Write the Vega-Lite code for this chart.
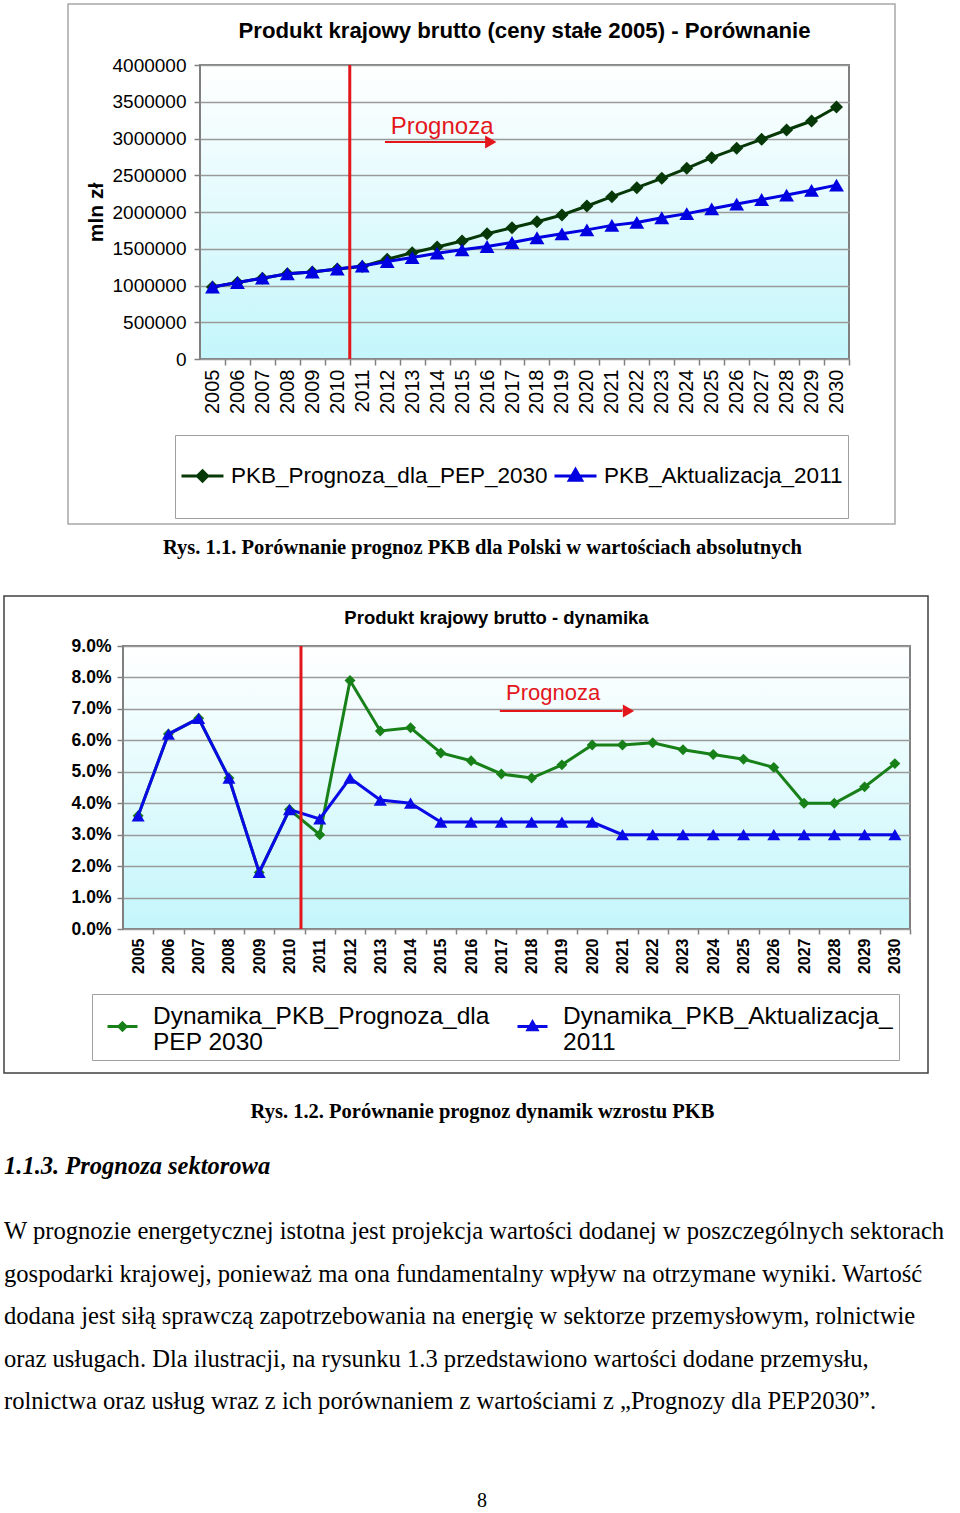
{
  "$schema": "https://vega.github.io/schema/vega-lite/v6.json",
  "background": "white",
  "padding": {"left": 0, "top": 3, "right": 0, "bottom": 0},
  "config": {
    "font": "Liberation Sans",
    "axis": {"labelColor": "black", "titleColor": "black"},
    "title": {"color": "black"},
    "legend": {"labelColor": "black"}
  },
  "bounds": "flush",
  "spacing": 592,
  "resolve": {"scale": {"color": "independent"}, "legend": {"color": "independent"}},
  "vconcat": [
    {
      "bounds": "flush",
      "spacing": 61,
      "resolve": {"scale": {"color": "independent"}, "legend": {"color": "independent"}},
      "vconcat": [
        {
          "bounds": "flush",
          "spacing": 0,
          "hconcat": [
            {"width": 68, "height": 1, "data": {"values": []}, "mark": "point", "encoding": {}, "view": {"stroke": null}},
            {"width": 827, "height": 520, "data": {"values": []}, "mark": "point", "encoding": {}, "view": {"stroke": "#a8a8a8", "strokeWidth": 1.5, "fill": null}}
          ]
        },
        {
          "bounds": "flush",
          "spacing": 0,
          "resolve": {"scale": {"color": "independent"}, "legend": {"color": "independent"}},
          "hconcat": [
            {"width": 200, "height": 1, "data": {"values": []}, "mark": "point", "encoding": {}, "view": {"stroke": null}},
            {
              "width": 649,
              "height": 294,
              "view": {"fill": {"gradient": "linear", "x1": 0, "y1": 0, "x2": 0, "y2": 1, "stops": [{"offset": 0, "color": "#ffffff"}, {"offset": 1, "color": "#c4f6fb"}]}, "stroke": "#808080", "strokeWidth": 2},
              "title": {"text": "Produkt krajowy brutto (ceny stałe 2005) - Porównanie", "fontSize": 22.2, "fontWeight": "bold", "offset": 14},
              "data": {"values": [
                {"rok": 2005, "seria": "PKB_Prognoza_dla_PEP_2030", "wartosc": 980000},
                {"rok": 2006, "seria": "PKB_Prognoza_dla_PEP_2030", "wartosc": 1040000},
                {"rok": 2007, "seria": "PKB_Prognoza_dla_PEP_2030", "wartosc": 1100000},
                {"rok": 2008, "seria": "PKB_Prognoza_dla_PEP_2030", "wartosc": 1160000},
                {"rok": 2009, "seria": "PKB_Prognoza_dla_PEP_2030", "wartosc": 1184000},
                {"rok": 2010, "seria": "PKB_Prognoza_dla_PEP_2030", "wartosc": 1225000},
                {"rok": 2011, "seria": "PKB_Prognoza_dla_PEP_2030", "wartosc": 1258000},
                {"rok": 2012, "seria": "PKB_Prognoza_dla_PEP_2030", "wartosc": 1357000},
                {"rok": 2013, "seria": "PKB_Prognoza_dla_PEP_2030", "wartosc": 1446000},
                {"rok": 2014, "seria": "PKB_Prognoza_dla_PEP_2030", "wartosc": 1524000},
                {"rok": 2015, "seria": "PKB_Prognoza_dla_PEP_2030", "wartosc": 1605000},
                {"rok": 2016, "seria": "PKB_Prognoza_dla_PEP_2030", "wartosc": 1705000},
                {"rok": 2017, "seria": "PKB_Prognoza_dla_PEP_2030", "wartosc": 1786000},
                {"rok": 2018, "seria": "PKB_Prognoza_dla_PEP_2030", "wartosc": 1868000},
                {"rok": 2019, "seria": "PKB_Prognoza_dla_PEP_2030", "wartosc": 1959000},
                {"rok": 2020, "seria": "PKB_Prognoza_dla_PEP_2030", "wartosc": 2082000},
                {"rok": 2021, "seria": "PKB_Prognoza_dla_PEP_2030", "wartosc": 2208000},
                {"rok": 2022, "seria": "PKB_Prognoza_dla_PEP_2030", "wartosc": 2331000},
                {"rok": 2023, "seria": "PKB_Prognoza_dla_PEP_2030", "wartosc": 2458000},
                {"rok": 2024, "seria": "PKB_Prognoza_dla_PEP_2030", "wartosc": 2594000},
                {"rok": 2025, "seria": "PKB_Prognoza_dla_PEP_2030", "wartosc": 2739000},
                {"rok": 2026, "seria": "PKB_Prognoza_dla_PEP_2030", "wartosc": 2866000},
                {"rok": 2027, "seria": "PKB_Prognoza_dla_PEP_2030", "wartosc": 2989000},
                {"rok": 2028, "seria": "PKB_Prognoza_dla_PEP_2030", "wartosc": 3116000},
                {"rok": 2029, "seria": "PKB_Prognoza_dla_PEP_2030", "wartosc": 3238000},
                {"rok": 2030, "seria": "PKB_Prognoza_dla_PEP_2030", "wartosc": 3428000},
                {"rok": 2005, "seria": "PKB_Aktualizacja_2011", "wartosc": 980000},
                {"rok": 2006, "seria": "PKB_Aktualizacja_2011", "wartosc": 1040000},
                {"rok": 2007, "seria": "PKB_Aktualizacja_2011", "wartosc": 1100000},
                {"rok": 2008, "seria": "PKB_Aktualizacja_2011", "wartosc": 1160000},
                {"rok": 2009, "seria": "PKB_Aktualizacja_2011", "wartosc": 1184000},
                {"rok": 2010, "seria": "PKB_Aktualizacja_2011", "wartosc": 1225000},
                {"rok": 2011, "seria": "PKB_Aktualizacja_2011", "wartosc": 1265000},
                {"rok": 2012, "seria": "PKB_Aktualizacja_2011", "wartosc": 1326000},
                {"rok": 2013, "seria": "PKB_Aktualizacja_2011", "wartosc": 1380000},
                {"rok": 2014, "seria": "PKB_Aktualizacja_2011", "wartosc": 1440000},
                {"rok": 2015, "seria": "PKB_Aktualizacja_2011", "wartosc": 1485000},
                {"rok": 2016, "seria": "PKB_Aktualizacja_2011", "wartosc": 1530000},
                {"rok": 2017, "seria": "PKB_Aktualizacja_2011", "wartosc": 1585000},
                {"rok": 2018, "seria": "PKB_Aktualizacja_2011", "wartosc": 1650000},
                {"rok": 2019, "seria": "PKB_Aktualizacja_2011", "wartosc": 1703000},
                {"rok": 2020, "seria": "PKB_Aktualizacja_2011", "wartosc": 1757000},
                {"rok": 2021, "seria": "PKB_Aktualizacja_2011", "wartosc": 1818000},
                {"rok": 2022, "seria": "PKB_Aktualizacja_2011", "wartosc": 1858000},
                {"rok": 2023, "seria": "PKB_Aktualizacja_2011", "wartosc": 1922000},
                {"rok": 2024, "seria": "PKB_Aktualizacja_2011", "wartosc": 1978000},
                {"rok": 2025, "seria": "PKB_Aktualizacja_2011", "wartosc": 2043000},
                {"rok": 2026, "seria": "PKB_Aktualizacja_2011", "wartosc": 2108000},
                {"rok": 2027, "seria": "PKB_Aktualizacja_2011", "wartosc": 2170000},
                {"rok": 2028, "seria": "PKB_Aktualizacja_2011", "wartosc": 2230000},
                {"rok": 2029, "seria": "PKB_Aktualizacja_2011", "wartosc": 2295000},
                {"rok": 2030, "seria": "PKB_Aktualizacja_2011", "wartosc": 2366000}
              ]},
              "layer": [
                {
                  "transform": [{"filter": "datum.seria == 'PKB_Prognoza_dla_PEP_2030'"}],
                  "mark": {"type": "line", "strokeWidth": 3},
                  "encoding": {
                    "x": {"field": "rok", "type": "quantitative", "scale": {"domain": [2004.5, 2030.5], "nice": false, "zero": false},
                      "axis": {"values": [2005,2006,2007,2008,2009,2010,2011,2012,2013,2014,2015,2016,2017,2018,2019,2020,2021,2022,2023,2024,2025,2026,2027,2028,2029,2030],
                        "tickCount": 100, "format": "d", "labelAngle": -90, "labelFontSize": 20, "labelPadding": 4, "tickOffset": 12.48, "labelOffset": -12.48, "tickSize": 6, "tickColor": "#808080", "tickWidth": 1.5,
                        "domain": false, "grid": false, "labelOverlap": false, "labelFlush": false, "labelBound": false,
                        "title": "Rys. 1.1. Porównanie prognoz PKB dla Polski w wartościach absolutnych", "titleFont": "Liberation Serif", "titleFontSize": 20.5, "titleFontWeight": "bold", "titlePadding": 124, "titleX": 282}},
                    "y": {"field": "wartosc", "type": "quantitative", "scale": {"domain": [0, 4000000], "nice": false},
                      "axis": {"values": [0,500000,1000000,1500000,2000000,2500000,3000000,3500000,4000000], "tickCount": 100, "format": "d", "labelFontSize": 19, "labelPadding": 8,
                        "title": "mln zł", "titleFontSize": 21, "titleFontWeight": "bold", "titlePadding": 6,
                        "grid": true, "gridColor": "#9a9a9a", "gridWidth": 1.5, "domain": false, "tickSize": 6, "tickColor": "#808080", "tickWidth": 1.5}},
                    "color": {"field": "seria", "type": "nominal",
                      "scale": {"domain": ["PKB_Prognoza_dla_PEP_2030", "PKB_Aktualizacja_2011"], "range": ["#073807", "#0000e0"]},
                      "legend": {"orient": "none", "legendX": -25, "legendY": 370, "direction": "horizontal", "title": null,
                        "labelFontSize": 22.5, "labelLimit": 600, "labelOffset": -20, "columnPadding": 0, "padding": 5,
                        "strokeColor": "#a0a0a0", "fillColor": "white", "symbolSize": 4624,
                        "encode": {"symbols": {"update": {
                          "shape": {"signal": "datum.value === 'PKB_Prognoza_dla_PEP_2030' ? 'M-0.38,-0.9M-0.38,0.9M-1,0L0.235,0M-0.382,-0.15L-0.232,0L-0.382,0.15L-0.532,0Z' : 'M-0.38,-0.9M-0.38,0.9M-1,0L0.235,0M-0.382,-0.19L-0.2,0.13L-0.564,0.13Z'"},
                          "fill": {"signal": "datum.value === 'PKB_Prognoza_dla_PEP_2030' ? '#073807' : '#0000e0'"},
                          "stroke": {"signal": "datum.value === 'PKB_Prognoza_dla_PEP_2030' ? '#073807' : '#0000e0'"},
                          "strokeWidth": {"value": 3}, "opacity": {"value": 1}, "fillOpacity": {"value": 1}, "strokeOpacity": {"value": 1}}}}}}
                  }
                },
                {
                  "transform": [{"filter": "datum.seria == 'PKB_Prognoza_dla_PEP_2030'"}],
                  "mark": {"type": "point", "filled": true, "opacity": 1, "shape": "diamond", "size": 170},
                  "encoding": {
                    "x": {"field": "rok", "type": "quantitative"},
                    "y": {"field": "wartosc", "type": "quantitative"},
                    "color": {"field": "seria", "type": "nominal"}
                  }
                },
                {
                  "transform": [{"filter": "datum.seria == 'PKB_Aktualizacja_2011'"}],
                  "mark": {"type": "line", "strokeWidth": 3},
                  "encoding": {
                    "x": {"field": "rok", "type": "quantitative"},
                    "y": {"field": "wartosc", "type": "quantitative"},
                    "color": {"field": "seria", "type": "nominal"}
                  }
                },
                {
                  "transform": [{"filter": "datum.seria == 'PKB_Aktualizacja_2011'"}],
                  "mark": {"type": "point", "filled": true, "opacity": 1, "shape": "triangle-up", "size": 220},
                  "encoding": {
                    "x": {"field": "rok", "type": "quantitative"},
                    "y": {"field": "wartosc", "type": "quantitative"},
                    "color": {"field": "seria", "type": "nominal"}
                  }
                },
                {
                  "data": {"values": [{}]},
                  "mark": {"type": "rule", "color": "#e3161c", "strokeWidth": 3},
                  "encoding": {"x": {"datum": 2010.5, "type": "quantitative"}}
                },
                {
                  "data": {"values": [{}]},
                  "mark": {"type": "text", "text": "Prognoza", "fontSize": 24, "color": "#e3161c", "align": "center", "baseline": "middle"},
                  "encoding": {"x": {"datum": 2014.2, "type": "quantitative"}, "y": {"datum": 3156000, "type": "quantitative"}}
                },
                {
                  "data": {"values": [{}]},
                  "mark": {"type": "rule", "color": "#e3161c", "strokeWidth": 2},
                  "encoding": {"x": {"datum": 2011.91, "type": "quantitative"}, "x2": {"datum": 2016.0}, "y": {"datum": 2952000, "type": "quantitative"}}
                },
                {
                  "data": {"values": [{}]},
                  "mark": {"type": "point", "shape": "triangle-right", "filled": true, "opacity": 1, "color": "#e3161c", "size": 170},
                  "encoding": {"x": {"datum": 2016.15, "type": "quantitative"}, "y": {"datum": 2952000, "type": "quantitative"}}
                }
              ]
            }
          ]
        }
      ]
    },
    {
      "bounds": "flush",
      "spacing": 50,
      "resolve": {"scale": {"color": "independent"}, "legend": {"color": "independent"}},
      "vconcat": [
        {
          "bounds": "flush",
          "spacing": 0,
          "hconcat": [
            {"width": 4, "height": 1, "data": {"values": []}, "mark": "point", "encoding": {}, "view": {"stroke": null}},
            {"width": 924, "height": 477, "data": {"values": []}, "mark": "point", "encoding": {}, "view": {"stroke": "#404040", "strokeWidth": 1.5, "fill": null}}
          ]
        },
        {
          "bounds": "flush",
          "spacing": 0,
          "resolve": {"scale": {"color": "independent"}, "legend": {"color": "independent"}},
          "hconcat": [
            {"width": 123, "height": 1, "data": {"values": []}, "mark": "point", "encoding": {}, "view": {"stroke": null}},
            {
              "width": 787,
              "height": 283,
              "view": {"fill": {"gradient": "linear", "x1": 0, "y1": 0, "x2": 0, "y2": 1, "stops": [{"offset": 0, "color": "#ffffff"}, {"offset": 1, "color": "#c4f6fb"}]}, "stroke": "#808080", "strokeWidth": 2},
              "title": {"text": "Produkt krajowy brutto - dynamika", "fontSize": 18.5, "fontWeight": "bold", "offset": 10, "dx": -20},
              "data": {"values": [
                {"rok": 2005, "seria": "Dynamika_PKB_Prognoza_dla PEP 2030", "dyn": 3.6},
                {"rok": 2006, "seria": "Dynamika_PKB_Prognoza_dla PEP 2030", "dyn": 6.2},
                {"rok": 2007, "seria": "Dynamika_PKB_Prognoza_dla PEP 2030", "dyn": 6.7},
                {"rok": 2008, "seria": "Dynamika_PKB_Prognoza_dla PEP 2030", "dyn": 4.8},
                {"rok": 2009, "seria": "Dynamika_PKB_Prognoza_dla PEP 2030", "dyn": 1.8},
                {"rok": 2010, "seria": "Dynamika_PKB_Prognoza_dla PEP 2030", "dyn": 3.8},
                {"rok": 2011, "seria": "Dynamika_PKB_Prognoza_dla PEP 2030", "dyn": 3.0},
                {"rok": 2012, "seria": "Dynamika_PKB_Prognoza_dla PEP 2030", "dyn": 7.9},
                {"rok": 2013, "seria": "Dynamika_PKB_Prognoza_dla PEP 2030", "dyn": 6.3},
                {"rok": 2014, "seria": "Dynamika_PKB_Prognoza_dla PEP 2030", "dyn": 6.4},
                {"rok": 2015, "seria": "Dynamika_PKB_Prognoza_dla PEP 2030", "dyn": 5.6},
                {"rok": 2016, "seria": "Dynamika_PKB_Prognoza_dla PEP 2030", "dyn": 5.35},
                {"rok": 2017, "seria": "Dynamika_PKB_Prognoza_dla PEP 2030", "dyn": 4.93},
                {"rok": 2018, "seria": "Dynamika_PKB_Prognoza_dla PEP 2030", "dyn": 4.8},
                {"rok": 2019, "seria": "Dynamika_PKB_Prognoza_dla PEP 2030", "dyn": 5.22},
                {"rok": 2020, "seria": "Dynamika_PKB_Prognoza_dla PEP 2030", "dyn": 5.85},
                {"rok": 2021, "seria": "Dynamika_PKB_Prognoza_dla PEP 2030", "dyn": 5.85},
                {"rok": 2022, "seria": "Dynamika_PKB_Prognoza_dla PEP 2030", "dyn": 5.92},
                {"rok": 2023, "seria": "Dynamika_PKB_Prognoza_dla PEP 2030", "dyn": 5.7},
                {"rok": 2024, "seria": "Dynamika_PKB_Prognoza_dla PEP 2030", "dyn": 5.55},
                {"rok": 2025, "seria": "Dynamika_PKB_Prognoza_dla PEP 2030", "dyn": 5.4},
                {"rok": 2026, "seria": "Dynamika_PKB_Prognoza_dla PEP 2030", "dyn": 5.14},
                {"rok": 2027, "seria": "Dynamika_PKB_Prognoza_dla PEP 2030", "dyn": 4.0},
                {"rok": 2028, "seria": "Dynamika_PKB_Prognoza_dla PEP 2030", "dyn": 4.0},
                {"rok": 2029, "seria": "Dynamika_PKB_Prognoza_dla PEP 2030", "dyn": 4.52},
                {"rok": 2030, "seria": "Dynamika_PKB_Prognoza_dla PEP 2030", "dyn": 5.26},
                {"rok": 2005, "seria": "Dynamika_PKB_Aktualizacja_2011", "dyn": 3.6},
                {"rok": 2006, "seria": "Dynamika_PKB_Aktualizacja_2011", "dyn": 6.2},
                {"rok": 2007, "seria": "Dynamika_PKB_Aktualizacja_2011", "dyn": 6.7},
                {"rok": 2008, "seria": "Dynamika_PKB_Aktualizacja_2011", "dyn": 4.8},
                {"rok": 2009, "seria": "Dynamika_PKB_Aktualizacja_2011", "dyn": 1.8},
                {"rok": 2010, "seria": "Dynamika_PKB_Aktualizacja_2011", "dyn": 3.8},
                {"rok": 2011, "seria": "Dynamika_PKB_Aktualizacja_2011", "dyn": 3.5},
                {"rok": 2012, "seria": "Dynamika_PKB_Aktualizacja_2011", "dyn": 4.8},
                {"rok": 2013, "seria": "Dynamika_PKB_Aktualizacja_2011", "dyn": 4.1},
                {"rok": 2014, "seria": "Dynamika_PKB_Aktualizacja_2011", "dyn": 4.0},
                {"rok": 2015, "seria": "Dynamika_PKB_Aktualizacja_2011", "dyn": 3.4},
                {"rok": 2016, "seria": "Dynamika_PKB_Aktualizacja_2011", "dyn": 3.4},
                {"rok": 2017, "seria": "Dynamika_PKB_Aktualizacja_2011", "dyn": 3.4},
                {"rok": 2018, "seria": "Dynamika_PKB_Aktualizacja_2011", "dyn": 3.4},
                {"rok": 2019, "seria": "Dynamika_PKB_Aktualizacja_2011", "dyn": 3.4},
                {"rok": 2020, "seria": "Dynamika_PKB_Aktualizacja_2011", "dyn": 3.4},
                {"rok": 2021, "seria": "Dynamika_PKB_Aktualizacja_2011", "dyn": 3.0},
                {"rok": 2022, "seria": "Dynamika_PKB_Aktualizacja_2011", "dyn": 3.0},
                {"rok": 2023, "seria": "Dynamika_PKB_Aktualizacja_2011", "dyn": 3.0},
                {"rok": 2024, "seria": "Dynamika_PKB_Aktualizacja_2011", "dyn": 3.0},
                {"rok": 2025, "seria": "Dynamika_PKB_Aktualizacja_2011", "dyn": 3.0},
                {"rok": 2026, "seria": "Dynamika_PKB_Aktualizacja_2011", "dyn": 3.0},
                {"rok": 2027, "seria": "Dynamika_PKB_Aktualizacja_2011", "dyn": 3.0},
                {"rok": 2028, "seria": "Dynamika_PKB_Aktualizacja_2011", "dyn": 3.0},
                {"rok": 2029, "seria": "Dynamika_PKB_Aktualizacja_2011", "dyn": 3.0},
                {"rok": 2030, "seria": "Dynamika_PKB_Aktualizacja_2011", "dyn": 3.0}
              ]},
              "layer": [
                {
                  "transform": [{"filter": "datum.seria == 'Dynamika_PKB_Prognoza_dla PEP 2030'"}],
                  "mark": {"type": "line", "strokeWidth": 3},
                  "encoding": {
                    "x": {"field": "rok", "type": "quantitative", "scale": {"domain": [2004.5, 2030.5], "nice": false, "zero": false},
                      "axis": {"values": [2005,2006,2007,2008,2009,2010,2011,2012,2013,2014,2015,2016,2017,2018,2019,2020,2021,2022,2023,2024,2025,2026,2027,2028,2029,2030],
                        "tickCount": 100, "format": "d", "labelAngle": -90, "labelFontSize": 16, "labelFontWeight": "bold", "labelPadding": 4, "tickOffset": 15.13, "labelOffset": -15.13, "tickSize": 5, "tickColor": "#808080", "tickWidth": 1.5,
                        "domain": false, "grid": false, "labelOverlap": false, "labelFlush": false, "labelBound": false,
                        "title": "Rys. 1.2. Porównanie prognoz dynamik wzrostu PKB", "titleFont": "Liberation Serif", "titleFontSize": 20.5, "titleFontWeight": "bold", "titlePadding": 128, "titleX": 359}},
                    "y": {"field": "dyn", "type": "quantitative", "scale": {"domain": [0, 9], "nice": false},
                      "axis": {"values": [0,1,2,3,4,5,6,7,8,9], "tickCount": 100, "labelExpr": "format(datum.value, '.1f') + '%'", "labelFontSize": 17.5, "labelFontWeight": "bold", "labelPadding": 6,
                        "title": null, "grid": true, "gridColor": "#9a9a9a", "gridWidth": 1.5, "domain": false, "tickSize": 6, "tickColor": "#808080", "tickWidth": 1.5}},
                    "color": {"field": "seria", "type": "nominal",
                      "scale": {"domain": ["Dynamika_PKB_Prognoza_dla PEP 2030", "Dynamika_PKB_Aktualizacja_2011"], "range": ["#188018", "#0a0ae6"]},
                      "legend": {"orient": "none", "legendX": -31, "legendY": 348, "direction": "horizontal", "title": null,
                        "labelFontSize": 24.5, "labelLimit": 600, "labelOffset": 14, "columnPadding": 18, "padding": 6, "symbolOffset": 8,
                        "strokeColor": "#a0a0a0", "fillColor": "white", "symbolSize": 900,
                        "labelExpr": "datum.label == 'Dynamika_PKB_Prognoza_dla PEP 2030' ? ['Dynamika_PKB_Prognoza_dla', 'PEP 2030'] : ['Dynamika_PKB_Aktualizacja_', '2011']",
                        "encode": {
                          "labels": {"update": {"lineHeight": {"value": 26}}},
                          "symbols": {"update": {
                          "shape": {"signal": "datum.value === 'Dynamika_PKB_Prognoza_dla PEP 2030' ? 'M-1,0.67L1,0.67M0,0.43L0.24,0.67L0,0.91L-0.24,0.67Z' : 'M-1,0.67L1,0.67M0,0.37L0.3,0.89L-0.3,0.89Z'"},
                          "fill": {"signal": "datum.value === 'Dynamika_PKB_Prognoza_dla PEP 2030' ? '#188018' : '#0a0ae6'"},
                          "stroke": {"signal": "datum.value === 'Dynamika_PKB_Prognoza_dla PEP 2030' ? '#188018' : '#0a0ae6'"},
                          "strokeWidth": {"value": 3}, "opacity": {"value": 1}, "fillOpacity": {"value": 1}, "strokeOpacity": {"value": 1}}}}}}
                  }
                },
                {
                  "transform": [{"filter": "datum.seria == 'Dynamika_PKB_Prognoza_dla PEP 2030'"}],
                  "mark": {"type": "point", "filled": true, "opacity": 1, "shape": "diamond", "size": 120},
                  "encoding": {
                    "x": {"field": "rok", "type": "quantitative"},
                    "y": {"field": "dyn", "type": "quantitative"},
                    "color": {"field": "seria", "type": "nominal"}
                  }
                },
                {
                  "transform": [{"filter": "datum.seria == 'Dynamika_PKB_Aktualizacja_2011'"}],
                  "mark": {"type": "line", "strokeWidth": 3},
                  "encoding": {
                    "x": {"field": "rok", "type": "quantitative"},
                    "y": {"field": "dyn", "type": "quantitative"},
                    "color": {"field": "seria", "type": "nominal"}
                  }
                },
                {
                  "transform": [{"filter": "datum.seria == 'Dynamika_PKB_Aktualizacja_2011'"}],
                  "mark": {"type": "point", "filled": true, "opacity": 1, "shape": "triangle-up", "size": 170},
                  "encoding": {
                    "x": {"field": "rok", "type": "quantitative"},
                    "y": {"field": "dyn", "type": "quantitative"},
                    "color": {"field": "seria", "type": "nominal"}
                  }
                },
                {
                  "data": {"values": [{}]},
                  "mark": {"type": "rule", "color": "#e3161c", "strokeWidth": 3},
                  "encoding": {"x": {"datum": 2010.38, "type": "quantitative"}}
                },
                {
                  "data": {"values": [{}]},
                  "mark": {"type": "text", "text": "Prognoza", "fontSize": 22, "color": "#e3161c", "align": "center", "baseline": "middle"},
                  "encoding": {"x": {"datum": 2018.71, "type": "quantitative"}, "y": {"datum": 7.5, "type": "quantitative"}}
                },
                {
                  "data": {"values": [{}]},
                  "mark": {"type": "rule", "color": "#e3161c", "strokeWidth": 2},
                  "encoding": {"x": {"datum": 2016.95, "type": "quantitative"}, "x2": {"datum": 2021.0}, "y": {"datum": 6.93, "type": "quantitative"}}
                },
                {
                  "data": {"values": [{}]},
                  "mark": {"type": "point", "shape": "triangle-right", "filled": true, "opacity": 1, "color": "#e3161c", "size": 170},
                  "encoding": {"x": {"datum": 2021.2, "type": "quantitative"}, "y": {"datum": 6.93, "type": "quantitative"}}
                }
              ]
            }
          ]
        }
      ]
    },
    {
      "bounds": "flush",
      "spacing": 0,
      "hconcat": [
        {"width": 4, "height": 1, "data": {"values": []}, "mark": "point", "encoding": {}, "view": {"stroke": null}},
        {
          "width": 956,
          "height": 326,
          "view": {"stroke": null},
          "title": {"text": "1.1.3. Prognoza sektorowa", "anchor": "start", "frame": "group", "font": "Liberation Serif", "fontSize": 24.5, "fontStyle": "italic", "fontWeight": "bold", "offset": 9},
          "layer": [
            {
              "data": {"values": [
                {"n": 1, "tekst": "W prognozie energetycznej istotna jest projekcja wartości dodanej w poszczególnych sektorach"},
                {"n": 2, "tekst": "gospodarki krajowej, ponieważ ma ona fundamentalny wpływ na otrzymane wyniki. Wartość"},
                {"n": 3, "tekst": "dodana jest siłą sprawczą zapotrzebowania na energię w sektorze przemysłowym, rolnictwie"},
                {"n": 4, "tekst": "oraz usługach. Dla ilustracji, na rysunku 1.3 przedstawiono wartości dodane przemysłu,"},
                {"n": 5, "tekst": "rolnictwa oraz usług wraz z ich porównaniem z wartościami z „Prognozy dla PEP2030”."}
              ]},
              "mark": {"type": "text", "align": "left", "baseline": "middle", "font": "Liberation Serif", "fontSize": 24.6, "color": "black"},
              "encoding": {
                "x": {"datum": 0, "type": "quantitative", "scale": {"domain": [0, 1]}, "axis": null},
                "y": {"field": "n", "type": "quantitative", "scale": {"domain": [-0.0353, 7.6353], "reverse": true, "nice": false, "zero": false}, "axis": null},
                "text": {"field": "tekst", "type": "nominal"}
              }
            },
            {
              "data": {"values": [{}]},
              "mark": {"type": "text", "text": "8", "align": "center", "baseline": "middle", "font": "Liberation Serif", "fontSize": 20, "color": "black"},
              "encoding": {
                "x": {"datum": 0.5, "type": "quantitative"},
                "y": {"datum": 7.329, "type": "quantitative"}
              }
            }
          ]
        }
      ]
    }
  ]
}
